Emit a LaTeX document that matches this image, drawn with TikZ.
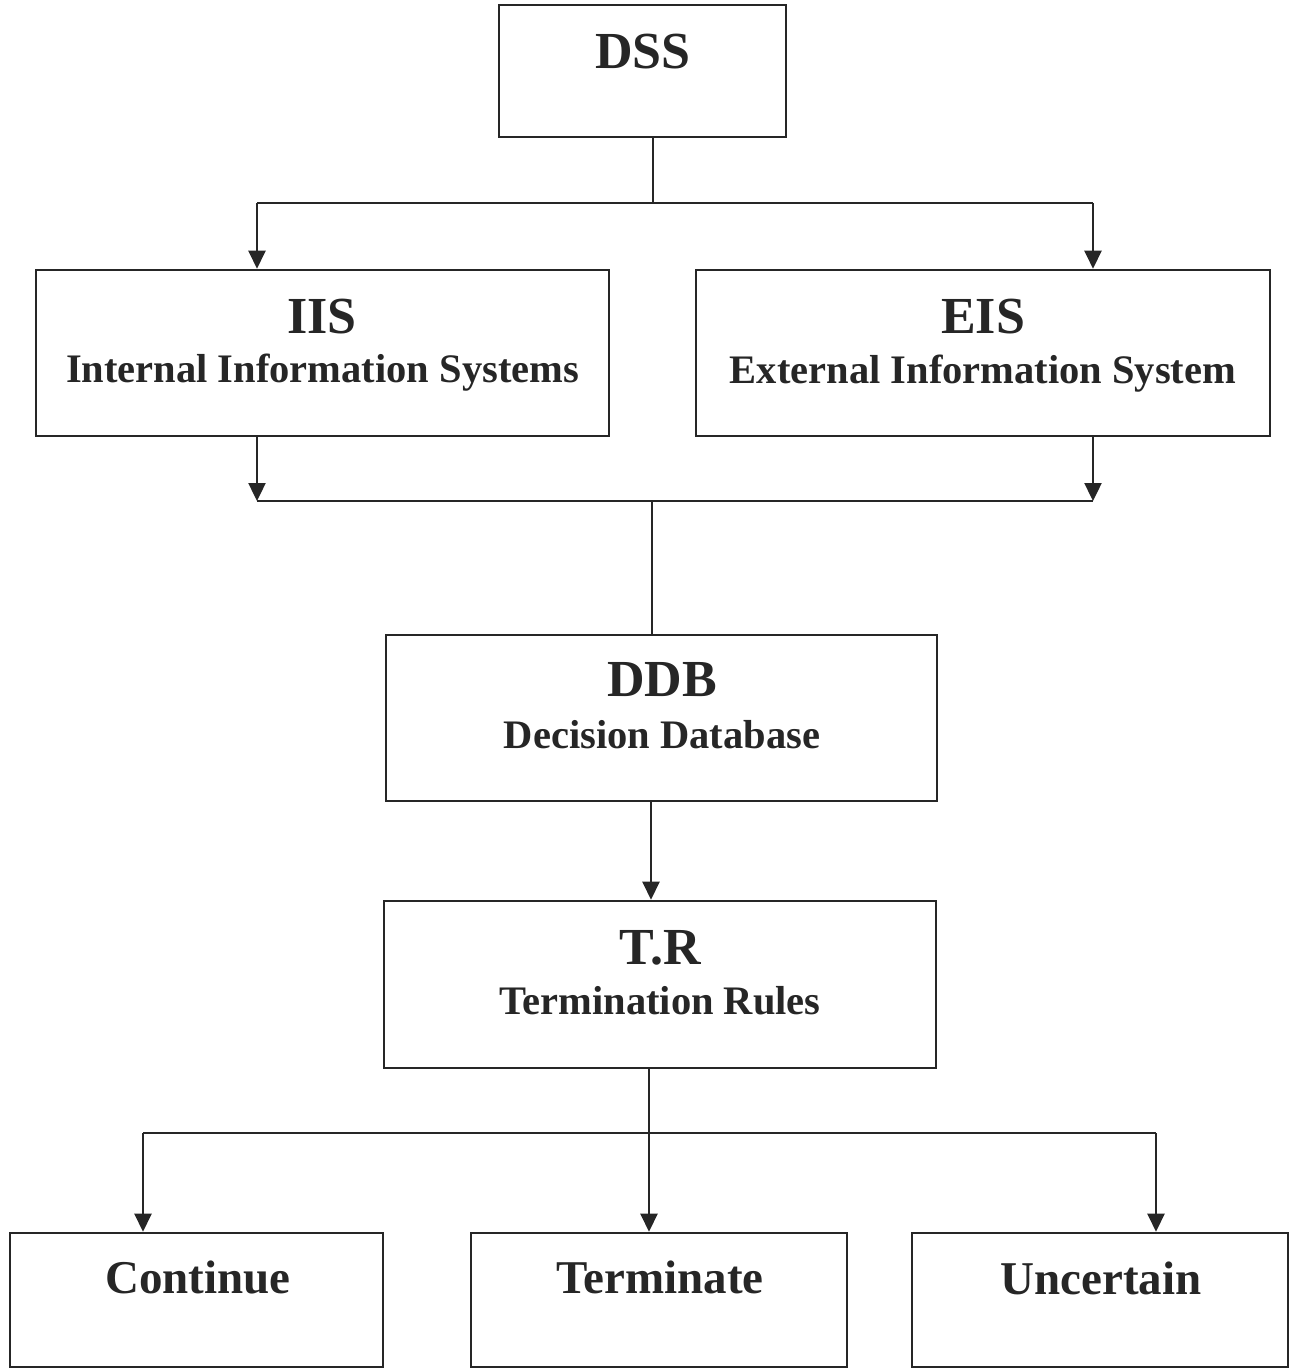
\documentclass[tikz,border=0pt]{standalone}
\usepackage{fontspec}
\setmainfont{Liberation Serif}
\usetikzlibrary{arrows.meta,calc}
\begin{document}
\begin{tikzpicture}[x=1pt,y=-1pt,
  boxst/.style={draw=black!85, line width=2.6pt, rectangle, inner sep=0pt},
  ttl/.style={anchor=base, inner sep=0pt, font=\fontsize{52}{60}\selectfont\bfseries, text=black!85},
  sub/.style={anchor=base, inner sep=0pt, font=\fontsize{40.5}{46}\selectfont\bfseries, text=black!85},
  lbl/.style={anchor=base, inner sep=0pt, font=\fontsize{47}{55}\selectfont\bfseries, text=black!85},
  conn/.style={draw=black!85, line width=2.4pt},
  arr/.style={conn, -{Triangle[width=17pt,length=18pt]}}]
\useasboundingbox (0,0) rectangle (1291,1369);
% boxes
\node[boxst, minimum width=287pt, minimum height=132pt] (dss) at (642.5,71) {};
\node[boxst, minimum width=573pt, minimum height=166pt] (iis) at (322.5,353) {};
\node[boxst, minimum width=574pt, minimum height=166pt] (eis) at (983,353) {};
\node[boxst, minimum width=551pt, minimum height=166pt] (ddb) at (661.5,718) {};
\node[boxst, minimum width=552pt, minimum height=167pt] (tr) at (660,984.5) {};
\node[boxst, minimum width=373pt, minimum height=134pt] (cont) at (196.5,1300) {};
\node[boxst, minimum width=376pt, minimum height=134pt] (term) at (659,1300) {};
\node[boxst, minimum width=376pt, minimum height=134pt] (unc) at (1100,1300) {};
% texts
\node[ttl] (dsst) at (643,68) {DSS};
\node[ttl] (iist) at (322,333) {IIS};
\node[sub] (iiss) at (322.5,382) {Internal Information Systems};
\node[ttl] (eist) at (983,333) {EIS};
\node[sub] (eiss) at (983,383) {External Information System};
\node[ttl] (ddbt) at (662,696) {DDB};
\node[sub] (ddbs) at (662,748) {Decision Database};
\node[ttl] (trt) at (660,964) {T.R};
\node[sub] (trs) at (660,1014) {Termination Rules};
\node[lbl] (contt) at (198,1293) {Continue};
\node[lbl] (termt) at (660,1293) {Terminate};
\node[lbl] (unct) at (1101,1294) {Uncertain};
% junction coordinates
\coordinate (j1) at (653,203);
\coordinate (aL) at (257,203);
\coordinate (aR) at (1093,203);
\coordinate (bL) at (257,501);
\coordinate (bR) at (1093,501);
\coordinate (j2) at (652,501);
\coordinate (dx) at (651,0);
\coordinate (tx) at (649,0);
\coordinate (cL) at (143,1133);
\coordinate (cR) at (1156,1133);
% connectors
\draw[conn] (dss.south -| j1) -- (j1);
\draw[conn] (aL) -- (aR);
\draw[arr] (aL) -- (aL |- iis.north);
\draw[arr] (aR) -- (aR |- eis.north);
\draw[arr] (iis.south -| bL) -- (bL);
\draw[arr] (eis.south -| bR) -- (bR);
\draw[conn] (bL) -- (bR);
\draw[conn] (j2) -- (j2 |- ddb.north);
\draw[arr] (ddb.south -| dx) -- (dx |- tr.north);
\draw[arr] (tr.south -| tx) -- (tx |- term.north);
\draw[conn] (cL) -- (cR);
\draw[arr] (cL) -- (cL |- cont.north);
\draw[arr] (cR) -- (cR |- unc.north);
\end{tikzpicture}
\end{document}
